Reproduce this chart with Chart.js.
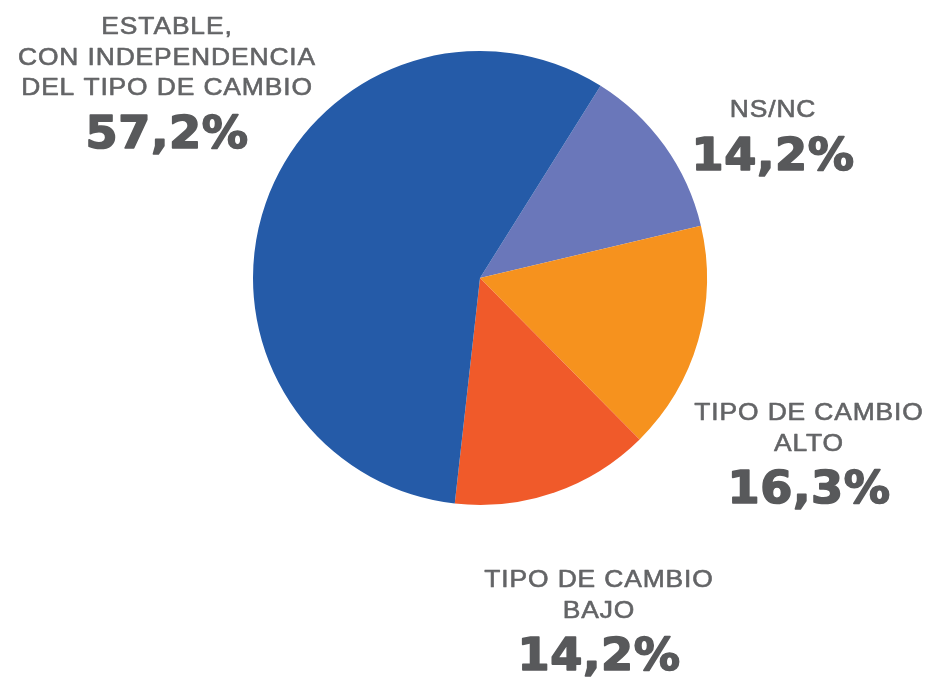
<!DOCTYPE html>
<html>
<head>
<meta charset="utf-8">
<script src="https://cdn.jsdelivr.net/npm/chart.js@4/dist/chart.umd.min.js"></script>
<style>
  html, body { margin: 0; padding: 0; background: #ffffff; }
  #wrap { width: 930px; height: 680px; position: relative; }
</style>
</head>
<body>
<div id="wrap"><canvas id="c" width="930" height="680"></canvas></div>
<script>
// Categories (clockwise from the top-right boundary)
const categories = ["NS/NC", "TIPO DE CAMBIO ALTO", "TIPO DE CAMBIO BAJO", "ESTABLE, CON INDEPENDENCIA DEL TIPO DE CAMBIO"];
// Slice values as drawn (share of the circle)
const values = [12.4, 16.3, 14.2, 57.2];
// Percentages as printed on the chart
const valueLabels = ["14,2%", "16,3%", "14,2%", "57,2%"];
// Label lines for each category
const labelLines = [["NS/NC"], ["TIPO DE CAMBIO", "ALTO"], ["TIPO DE CAMBIO", "BAJO"], ["ESTABLE,", "CON INDEPENDENCIA", "DEL TIPO DE CAMBIO"]];
const colors = ["#6A77BA", "#F6921E", "#F05A2A", "#255BA8"];

// Label block placement: center x, baseline of first line, baseline of percentage
const labelPos = [
  { x: 773, y: 117, py: 170 },
  { x: 809, y: 420, py: 503 },
  { x: 599, y: 587, py: 670 },
  { x: 167, y: 34,  py: 148 }
];

function drawScaled(ctx, text, x, y, sx, strokeW) {
  ctx.save();
  ctx.translate(x, y);
  ctx.scale(sx, 1);
  ctx.fillText(text, 0, 0);
  if (strokeW > 0) {
    ctx.lineWidth = strokeW;
    ctx.strokeStyle = ctx.fillStyle;
    ctx.lineJoin = 'round';
    ctx.strokeText(text, 0, 0);
  }
  ctx.restore();
}

const labelPlugin = {
  id: 'sliceLabels',
  afterDraw(chart) {
    const ctx = chart.ctx;
    ctx.save();
    ctx.textAlign = 'center';
    ctx.textBaseline = 'alphabetic';
    labelLines.forEach((lines, i) => {
      const p = labelPos[i];
      ctx.fillStyle = '#636466';
      ctx.font = '24px "Liberation Sans", Arial, sans-serif';
      if ('letterSpacing' in ctx) ctx.letterSpacing = '0.8px';
      lines.forEach((t, j) => drawScaled(ctx, t, p.x, p.y + j * 30.5, 1.1, 0.6));
      ctx.fillStyle = '#58595B';
      ctx.font = 'bold 44px "DejaVu Sans", sans-serif';
      if ('letterSpacing' in ctx) ctx.letterSpacing = '0.5px';
      drawScaled(ctx, valueLabels[i], p.x, p.py, 1.05, 1.6);
    });
    ctx.restore();
  }
};

new Chart(document.getElementById('c'), {
  type: 'pie',
  data: {
    labels: categories,
    datasets: [{
      data: values,
      backgroundColor: colors,
      borderWidth: 0
    }]
  },
  options: {
    responsive: false,
    animation: false,
    rotation: 32.1,
    layout: { padding: { left: 253, right: 223, top: 51, bottom: 175 } },
    plugins: {
      legend: { display: false },
      tooltip: { enabled: false }
    }
  },
  plugins: [labelPlugin]
});
</script>
</body>
</html>
